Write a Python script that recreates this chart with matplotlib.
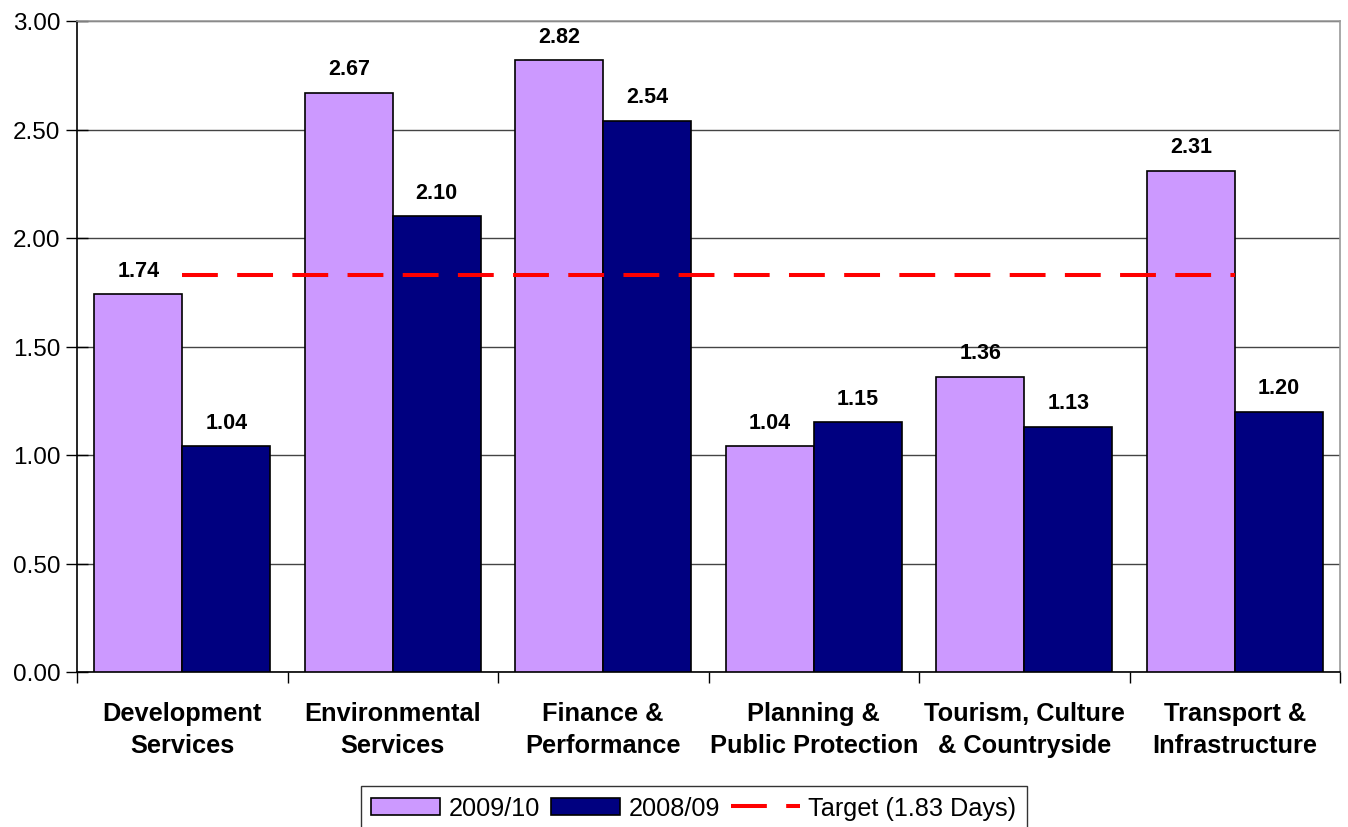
import matplotlib
matplotlib.use("Agg")
import matplotlib.pyplot as plt
import numpy as np

categories = ["Development\nServices", "Environmental\nServices", "Finance &\nPerformance",
              "Planning &\nPublic Protection", "Tourism, Culture\n& Countryside",
              "Transport &\nInfrastructure"]
values_2009 = [1.74, 2.67, 2.82, 1.04, 1.36, 2.31]
values_2008 = [1.04, 2.10, 2.54, 1.15, 1.13, 1.20]
target = 1.83
yticks = [0.0, 0.5, 1.0, 1.5, 2.0, 2.5, 3.0]

plt.rcParams["font.family"] = ["Liberation Sans", "DejaVu Sans"]

fig = plt.figure(figsize=(13.48, 8.28), dpi=100)
ax = fig.add_axes([77 / 1348, 1 - 673 / 828, (1340 - 77) / 1348, (673 - 22) / 828])

x = np.arange(len(categories))
w = 0.418
b1 = ax.bar(x - w / 2, values_2009, w, color="#cc99ff", edgecolor="black", linewidth=1.2,
            label="2009/10", zorder=3)
b2 = ax.bar(x + w / 2, values_2008, w, color="#000080", edgecolor="black", linewidth=1.2,
            label="2008/09", zorder=3)

for rect, v in list(zip(b1, values_2009)) + list(zip(b2, values_2008)):
    ax.text(rect.get_x() + rect.get_width() / 2, v + 0.062, f"{v:.2f}",
            ha="center", va="bottom", fontsize=15.5, fontweight="bold", zorder=5)

target_line, = ax.plot([x[0], x[-1]], [target, target], color="#ff0000", linewidth=2.9,
                       dashes=(8.9, 4.8), label="Target (1.83 Days)", zorder=4)

ax.set_xlim(-0.5, len(categories) - 0.5)
ax.set_ylim(0, 3.0)
ax.set_yticks(yticks)
ax.set_yticklabels([f"{t:.2f}" for t in yticks], fontsize=17.5)
ax.yaxis.grid(True, color="#444444", linewidth=1.0, zorder=0)

ax.set_xticks(np.arange(len(categories) + 1) - 0.5)
ax.set_xticklabels([])
ax.set_xticks(x, minor=True)
ax.set_xticklabels(categories, minor=True, fontsize=18.3, fontweight="bold", linespacing=1.4)
ax.tick_params(axis="x", which="major", direction="out", length=8, width=1, color="black")
ax.tick_params(axis="x", which="minor", length=0, pad=21)
ax.tick_params(axis="y", direction="inout", length=16, width=1, pad=4)

for s in ["left", "bottom"]:
    ax.spines[s].set_color("black")
    ax.spines[s].set_linewidth(1.2)
for s in ["top", "right"]:
    ax.spines[s].set_color("#999999")
    ax.spines[s].set_linewidth(1.2)

leg = fig.legend(handles=[b1, b2, target_line], loc="upper center",
                 bbox_to_anchor=(694 / 1348, 1 - 787 / 828), ncol=3, fontsize=18.2,
                 frameon=True, fancybox=False, edgecolor="black", handlelength=2.7,
                 handleheight=0.66, columnspacing=0.45, handletextpad=0.35, borderpad=0.4,
                 borderaxespad=0)
leg.get_frame().set_linewidth(1.0)

fig.savefig("out.png", dpi=100)
